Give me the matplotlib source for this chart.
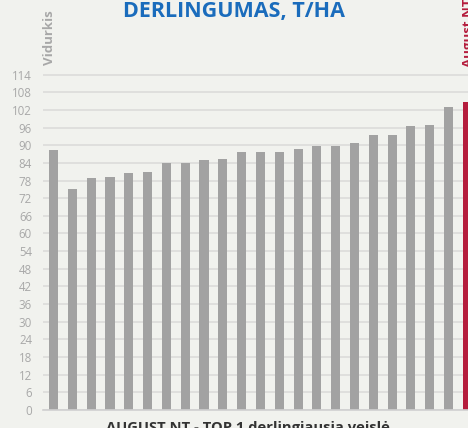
import matplotlib.pyplot as plt
import numpy as np

# yields in t/ha: first bar is the average, last bar is August NT
values = [88.4, 75.1, 78.8, 79.2, 80.5, 80.9, 83.9, 83.9, 85.0, 85.3, 87.7,
          87.7, 87.7, 88.7, 89.7, 89.7, 90.7, 93.5, 93.5, 96.5, 96.9, 103.0, 104.7]
yticks = list(range(0, 115, 6))

GREY = "#a2a2a2"
RED = "#b51d3d"
BG = "#f1f2ee"

fig = plt.figure(figsize=(4.68, 4.28), dpi=100)
fig.patch.set_facecolor(BG)
ax = fig.add_axes([0.092, 0.0425, 0.908, 0.8173])
ax.set_facecolor(BG)

x = np.arange(len(values))
colors = [GREY] * (len(values) - 1) + [RED]
ax.bar(x, values, width=0.48, color=colors, zorder=3)

ax.set_xlim(-0.56, 22.04)
ax.set_ylim(0, 119)
ax.set_yticks(yticks)
ax.set_yticklabels([str(t) for t in yticks], fontsize=8.3, color="#a8a8a8", family="Open Sans")
ax.set_xticks([])
ax.grid(axis="y", color="#dcdcda", linewidth=1.2, zorder=0)
ax.tick_params(axis="y", length=0, pad=8)
for side in ["top", "right", "left"]:
    ax.spines[side].set_visible(False)
ax.spines["bottom"].set_color("#d0d0d0")
ax.spines["bottom"].set_linewidth(1.2)
ax.spines["bottom"].set_zorder(4)

# header and rotated labels sit outside the axes, partly cut at the edges like the source image
fig.text(0.50, 0.972, "DERLINGUMAS, T/HA", ha="center", va="center",
         fontsize=15.5, fontweight="bold", color="#1a6cbc", family="Open Sans")
fig.text(0.106, 0.848, "Vidurkis", rotation=90, ha="center", va="bottom",
         fontsize=9.5, fontweight="bold", color="#a8a8a8", family="Open Sans")
fig.text(0.988, 0.843, "August NT", rotation=90, ha="left", va="bottom",
         fontsize=9.5, fontweight="bold", color=RED, family="Open Sans")
fig.text(0.53, 0.0, "AUGUST NT - TOP 1 derlingiausia veislė", ha="center", va="center",
         fontsize=10.6, fontweight="bold", color="#333333", family="Open Sans")

fig.savefig("out.png", dpi=100, facecolor=BG)
